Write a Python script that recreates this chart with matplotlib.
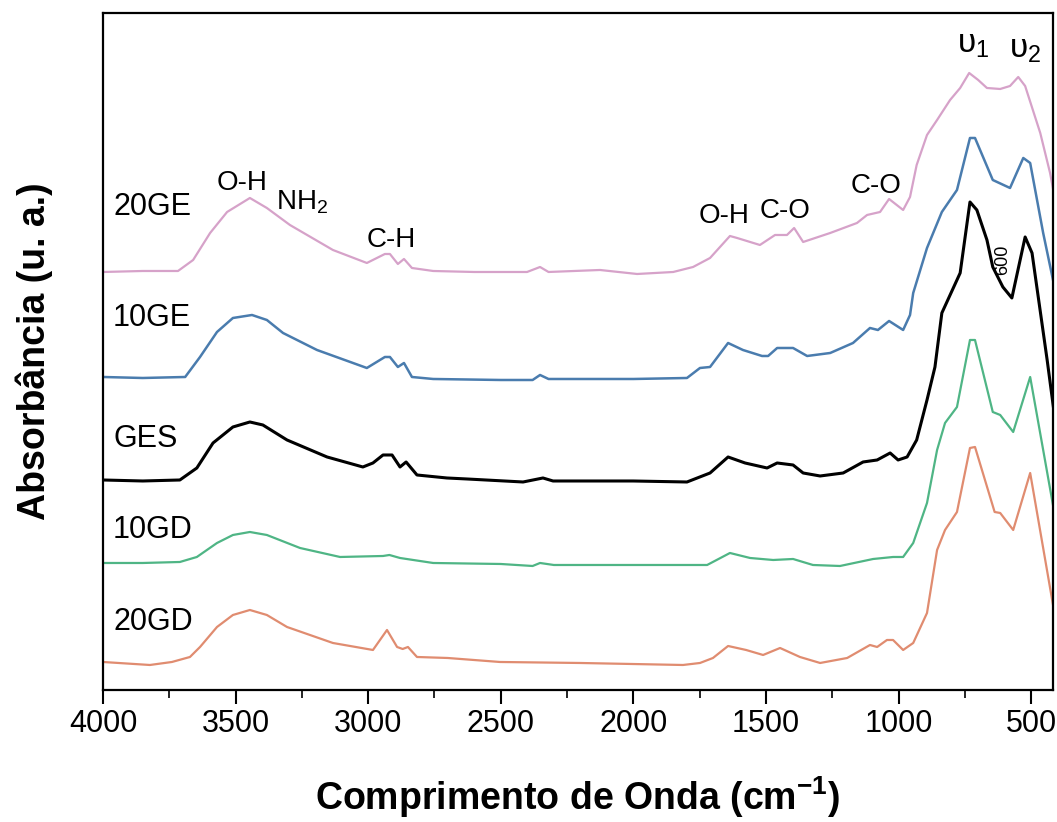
import matplotlib
matplotlib.use("Agg")
import matplotlib.pyplot as plt
from matplotlib.ticker import MultipleLocator

plt.rcParams["font.family"] = ["Liberation Sans", "DejaVu Sans"]
plt.rcParams["mathtext.fontset"] = "custom"
plt.rcParams["mathtext.rm"] = "Liberation Sans"
plt.rcParams["mathtext.it"] = "Liberation Sans"
plt.rcParams["mathtext.bf"] = "Liberation Sans:bold"

# spectra (offset absorbance, arbitrary units)
wn_20ge = [4000, 3850, 3717, 3660, 3596, 3532, 3446, 3382, 3295, 3133, 3005, 2937, 2918, 2888,
           2865, 2835, 2755, 2600, 2401, 2352, 2320, 2126, 1986, 1850, 1775, 1711, 1636, 1609,
           1523, 1466, 1421, 1394, 1360, 1258, 1157, 1119, 1070, 1036, 983, 957, 932, 893, 855,
           806, 768, 734, 700, 667, 617, 580, 549, 523, 466, 429, 410]
abs_20ge = [4.18, 4.19, 4.19, 4.30, 4.57, 4.78, 4.92, 4.82, 4.65, 4.40, 4.27, 4.36, 4.36, 4.26,
            4.31, 4.22, 4.19, 4.18, 4.18, 4.23, 4.18, 4.20, 4.16, 4.18, 4.23, 4.32, 4.54, 4.52,
            4.45, 4.55, 4.55, 4.62, 4.48, 4.57, 4.67, 4.75, 4.78, 4.91, 4.80, 4.93, 5.25, 5.55, 5.70,
            5.90, 6.02, 6.17, 6.10, 6.02, 6.01, 6.04, 6.13, 6.04, 5.57, 5.17, 4.90]

wn_10ge = [4000, 3850, 3690, 3634, 3570, 3510, 3438, 3382, 3321, 3193, 3005, 2937, 2918, 2888,
           2865, 2835, 2755, 2500, 2380, 2352, 2320, 2000, 1798, 1749, 1711, 1643, 1587, 1515,
           1492, 1458, 1398, 1345, 1258, 1172, 1108, 1078, 1036, 983, 957, 945, 893, 837, 780,
           731, 712, 645, 580, 530, 504, 455, 410]
abs_10ge = [3.13, 3.12, 3.13, 3.33, 3.58, 3.72, 3.75, 3.70, 3.57, 3.40, 3.22, 3.33, 3.33, 3.23,
            3.27, 3.13, 3.11, 3.10, 3.10, 3.15, 3.11, 3.11, 3.12, 3.22, 3.23, 3.47, 3.40, 3.34,
            3.34, 3.42, 3.42, 3.34, 3.37, 3.47, 3.62, 3.60, 3.69, 3.60, 3.75, 3.97, 4.42, 4.78, 5.00,
            5.52, 5.52, 5.10, 5.02, 5.32, 5.27, 4.57, 4.00]

wn_ges = [4000, 3850, 3710, 3646, 3585, 3510, 3446, 3397, 3306, 3155, 3020, 2982, 2944, 2910,
          2880, 2857, 2816, 2703, 2627, 2416, 2341, 2303, 2001, 1798, 1711, 1643, 1579, 1496,
          1458, 1398, 1360, 1296, 1209, 1134, 1081, 1032, 1002, 968, 932, 893, 863, 837, 768,
          731, 705, 667, 645, 607, 573, 523, 497, 440, 410]
abs_ges = [2.10, 2.09, 2.10, 2.22, 2.47, 2.63, 2.68, 2.65, 2.50, 2.33, 2.23, 2.27, 2.35, 2.35,
           2.23, 2.28, 2.15, 2.12, 2.11, 2.08, 2.12, 2.09, 2.09, 2.08, 2.17, 2.33, 2.27, 2.22,
           2.27, 2.25, 2.17, 2.14, 2.17, 2.28, 2.30, 2.37, 2.30, 2.33, 2.50, 2.90, 3.23, 3.77, 4.17,
           4.88, 4.80, 4.50, 4.23, 4.03, 3.92, 4.53, 4.37, 3.30, 2.70]

wn_10gd = [4000, 3850, 3710, 3646, 3570, 3510, 3446, 3382, 3257, 3106, 2944, 2920, 2880, 2755,
           2500, 2380, 2352, 2300, 2000, 1722, 1636, 1560, 1473, 1398, 1323, 1221, 1096, 1021,
           983, 945, 893, 855, 825, 780, 731, 712, 645, 617, 568, 504, 410]
abs_10gd = [1.27, 1.27, 1.28, 1.33, 1.47, 1.55, 1.58, 1.55, 1.42, 1.33, 1.34, 1.35, 1.32, 1.27,
            1.26, 1.24, 1.27, 1.25, 1.25, 1.25, 1.37, 1.32, 1.30, 1.31, 1.25, 1.24, 1.31, 1.33,
            1.33, 1.47, 1.87, 2.40, 2.67, 2.83, 3.50, 3.50, 2.78, 2.75, 2.58, 3.13, 1.73]

wn_20gd = [4000, 3823, 3740, 3672, 3634, 3570, 3510, 3446, 3382, 3306, 3133, 2982, 2929, 2891,
           2870, 2850, 2816, 2700, 2503, 2200, 1813, 1749, 1700, 1643, 1575, 1511, 1447, 1372,
           1296, 1194, 1108, 1081, 1044, 1021, 983, 945, 893, 855, 825, 780, 731, 712, 638, 617,
           568, 504, 410]
abs_20gd = [0.28, 0.25, 0.28, 0.33, 0.43, 0.63, 0.75, 0.80, 0.75, 0.63, 0.47, 0.40, 0.60, 0.43,
            0.41, 0.43, 0.33, 0.32, 0.28, 0.27, 0.25, 0.27, 0.32, 0.44, 0.40, 0.35, 0.42, 0.33,
            0.27, 0.32, 0.45, 0.43, 0.50, 0.50, 0.40, 0.47, 0.77, 1.40, 1.60, 1.78, 2.42, 2.43, 1.78,
            1.77, 1.60, 2.17, 0.73]

fig = plt.figure(figsize=(10.57, 8.22), dpi=100)
ax = fig.add_axes([0.0974, 0.1606, 0.8988, 0.8236])

ax.plot(wn_20ge, abs_20ge, color="#d6a2c9", lw=1.6)
ax.plot(wn_10ge, abs_10ge, color="#4a7cae", lw=1.8)
ax.plot(wn_ges, abs_ges, color="black", lw=2.2)
ax.plot(wn_10gd, abs_10gd, color="#4fb585", lw=1.6)
ax.plot(wn_20gd, abs_20gd, color="#e08c70", lw=1.6)

ax.set_xlim(4000, 418)
ax.set_ylim(0, 6.77)
ax.set_yticks([])
ax.xaxis.set_major_locator(MultipleLocator(500))
ax.xaxis.set_minor_locator(MultipleLocator(250))
ax.tick_params(axis="x", which="major", direction="out", length=10, width=1.5,
               labelsize=22, pad=4)
ax.tick_params(axis="x", which="minor", direction="out", length=5.5, width=1.2)
for s in ax.spines.values():
    s.set_linewidth(1.6)

# sample names
names = [("20GE", 4.75), ("10GE", 3.64), ("GES", 2.43), ("10GD", 1.52), ("20GD", 0.60)]
for txt, yy in names:
    ax.text(3962, yy, txt, fontsize=22, ha="left", va="baseline")

# band assignments
ax.text(3476, 5.00, "O-H", fontsize=20, ha="center", va="baseline")
ax.text(3346, 4.80, "NH$_2$", fontsize=20, ha="left", va="baseline")
ax.text(2914, 4.43, "C-H", fontsize=20, ha="center", va="baseline")
ax.text(1658, 4.67, "O-H", fontsize=20, ha="center", va="baseline")
ax.text(1428, 4.72, "C-O", fontsize=20, ha="center", va="baseline")
ax.text(1085, 4.97, "C-O", fontsize=20, ha="center", va="baseline")
ax.text(780, 6.37, "υ$_1$", fontsize=24, ha="left", va="baseline")
ax.text(582, 6.32, "υ$_2$", fontsize=24, ha="left", va="baseline")
ax.text(606, 4.30, "600", fontsize=13, rotation=90, ha="center", va="center")

ax.set_xlabel(r"Comprimento de Onda (cm$\mathbf{^{-1}}$)", fontsize=27, fontweight="bold")
ax.xaxis.label.set_va("baseline")
ax.xaxis.set_label_coords(0.5, -0.178)
ax.set_ylabel("Absorbância (u. a.)", fontsize=27, fontweight="bold")
ax.yaxis.set_label_coords(-0.053, 0.5)

fig.savefig("out.png", dpi=100)
